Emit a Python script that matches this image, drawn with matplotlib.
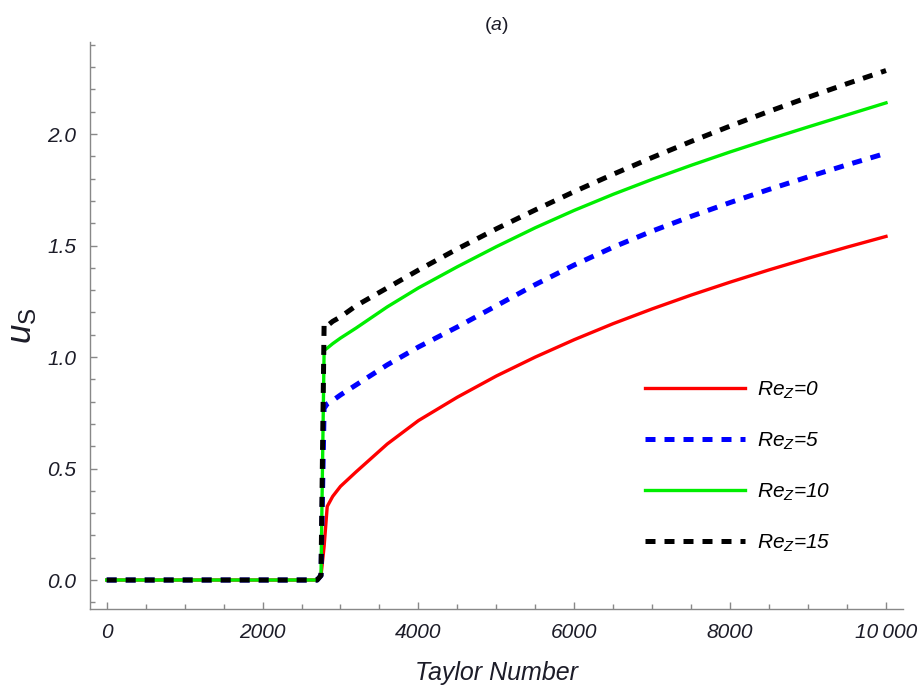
import matplotlib
matplotlib.use("Agg")
import matplotlib.pyplot as plt
from matplotlib.ticker import MultipleLocator, FuncFormatter

plt.rcParams["font.family"] = ["Liberation Sans", "DejaVu Sans"]
plt.rcParams["mathtext.fontset"] = "custom"
plt.rcParams["mathtext.it"] = "Liberation Sans:italic"
plt.rcParams["mathtext.rm"] = "Liberation Sans:italic"
plt.rcParams["mathtext.sf"] = "Liberation Sans"

# Taylor number grid (shared by all four curves)
taylor = [0, 2700, 2750, 2790, 2830, 2900, 3000, 3200, 3600, 4000, 4500, 5000,
          5500, 6000, 6500, 7000, 7500, 8000, 8500, 9000, 9500, 10000]

# u_s
us_re0 = [0, 0, 0.02, 0.15, 0.33, 0.375, 0.42, 0.485, 0.61, 0.715, 0.82, 0.915,
          1.0, 1.078, 1.15, 1.216, 1.278, 1.336, 1.391, 1.443, 1.493, 1.541]
us_re5 = [0, 0, 0.02, 0.77, 0.79, 0.805, 0.83, 0.875, 0.965, 1.045, 1.135, 1.23,
          1.325, 1.413, 1.493, 1.565, 1.631, 1.693, 1.752, 1.808, 1.862, 1.914]
us_re10 = [0, 0, 0.02, 1.03, 1.04, 1.06, 1.085, 1.13, 1.225, 1.31, 1.405, 1.495,
           1.58, 1.658, 1.73, 1.797, 1.86, 1.92, 1.977, 2.032, 2.086, 2.14]
us_re15 = [0, 0, 0.02, 1.15, 1.14, 1.16, 1.18, 1.23, 1.31, 1.39, 1.485, 1.575,
           1.66, 1.742, 1.82, 1.895, 1.967, 2.036, 2.102, 2.165, 2.226, 2.285]

labels = [r"$Re_Z$=0", r"$Re_Z$=5", r"$Re_Z$=10", r"$Re_Z$=15"]

fig = plt.figure(figsize=(9.2, 6.88), dpi=100)
ax = fig.add_axes([90 / 920, 79 / 688, 813 / 920, 567 / 688])

ax.plot(taylor, us_re0, color="#ff0000", lw=2.4, label=labels[0])
ax.plot(taylor, us_re5, color="#0000ff", lw=3.6, dashes=(2.0, 1.8), label=labels[1])
ax.plot(taylor, us_re10, color="#00ee00", lw=2.4, label=labels[2])
ax.plot(taylor, us_re15, color="#000000", lw=3.6, dashes=(2.0, 1.8), label=labels[3])

ax.set_xlim(-214, 10218)
ax.set_ylim(-0.13, 2.413)

for s in ["top", "right"]:
    ax.spines[s].set_visible(False)
for s in ["left", "bottom"]:
    ax.spines[s].set_color("#888888")
    ax.spines[s].set_linewidth(1.0)

ax.xaxis.set_major_locator(MultipleLocator(2000))
ax.xaxis.set_minor_locator(MultipleLocator(500))
ax.yaxis.set_major_locator(MultipleLocator(0.5))
ax.yaxis.set_minor_locator(MultipleLocator(0.1))
ax.xaxis.set_major_formatter(FuncFormatter(
    lambda v, p: "10\u2009000" if v >= 10000 else f"{v:.0f}"))
ax.yaxis.set_major_formatter(FuncFormatter(lambda v, p: f"{v:.1f}"))

ax.tick_params(which="both", direction="in", color="#888888", width=1.0)
ax.tick_params(which="major", length=5, labelsize=15, labelcolor="#1c1c28", pad=10)
ax.tick_params(which="minor", length=3.5)
for lab in ax.get_xticklabels() + ax.get_yticklabels():
    lab.set_fontstyle("italic")

ax.set_xlabel("Taylor Number", fontsize=18, fontstyle="italic", labelpad=14,
              color="#1c1c28")
ax.set_ylabel(r"$u_{\mathsf{S}}$", fontsize=25, labelpad=6, color="#1c1c28")
ax.set_title(r"($a$)", fontsize=14, pad=9, color="#1c1c28")

ax.legend(loc="center left", bbox_to_anchor=(0.683, 0.251), frameon=False,
          borderaxespad=0, borderpad=0, handlelength=4.8, handletextpad=0.58,
          labelspacing=1.43, prop={"family": "Liberation Sans", "style": "italic", "size": 15})

fig.savefig("out.png", dpi=100, facecolor="white")
